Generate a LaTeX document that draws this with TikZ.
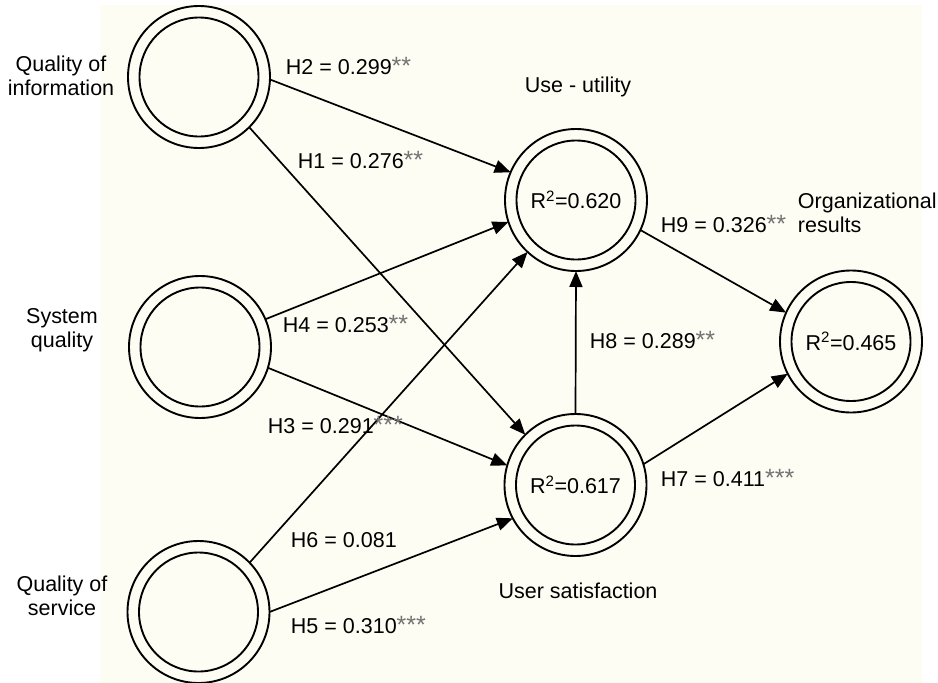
\documentclass[tikz,border=0pt]{standalone}
\usepackage{fontspec}
\setmainfont{Liberation Sans}
\usetikzlibrary{arrows.meta}
\definecolor{cream}{HTML}{FEFDF3}
\newcommand{\sig}[1]{\raisebox{0pt}{\fontsize{25}{26}\selectfont\textcolor{black!55}{#1}}}
\begin{document}
\begin{tikzpicture}[x=1pt,y=-1pt,line width=1.9pt,
  outercirc/.style={circle,draw,minimum size=142pt,inner sep=0pt,outer sep=0pt},
  innercirc/.style={circle,draw,minimum size=119pt,inner sep=0pt,outer sep=0pt,font=\fontsize{21.5}{24}\selectfont},
  conn/.style={-{Triangle[length=16pt,width=13pt]},line width=1.7pt},
  lab/.style={anchor=base west,inner sep=0pt,font=\fontsize{21.5}{24}\selectfont},
  cname/.style={align=center,inner sep=0pt,font=\fontsize{21.5}{24}\selectfont}]
\useasboundingbox (0,0) rectangle (938,683);
\fill[white] (0,0) rectangle (938,683);
\fill[cream] (100,5) rectangle (922,683);

% constructs
\node[outercirc] (QI) at (199,77) {};
\node[innercirc] (QIi) at (199,77) {};
\node[outercirc] (SQ) at (200,347) {};
\node[innercirc] (SQi) at (200,347) {};
\node[outercirc] (QS) at (198.5,612) {};
\node[innercirc] (QSi) at (198.5,612) {};
\node[outercirc] (UU) at (576,200) {};
\node[innercirc] (UUi) at (576,200) {R\textsuperscript{2}=0.620};
\node[outercirc] (US) at (575.5,485) {};
\node[innercirc] (USi) at (575.5,485) {R\textsuperscript{2}=0.617};
\node[outercirc] (OR) at (851,341.5) {};
\node[innercirc] (ORi) at (851,341.5) {R\textsuperscript{2}=0.465};

% construct names
\node[cname,anchor=north] (tQI) at (61,54.5) {Quality of\\information};
\node[cname,anchor=north] (tSQ) at (62,307.5) {System\\quality};
\node[cname,anchor=north] (tQS) at (62,574.5) {Quality of\\service};
\node[cname,anchor=base] (tUU) at (578,92) {Use - utility};
\node[cname,anchor=base] (tUS) at (578,598) {User satisfaction};
\node[cname,align=left,anchor=north west] (tOR) at (797,191.5) {Organizational\\results};

% paths
\draw[conn] (QI.-2) -- (UU.157);
\draw[conn] (QI.-45) -- (US.135);
\draw[conn] (SQ.23) -- (UU.198);
\draw[conn] (SQ.-17) -- (US.164);
\draw[conn] (QS.44) -- (UU.227);
\draw[conn] (QS.0) -- (US.208);
\draw[conn] (US.90) -- (UU.270);
\draw[conn] (UU.-25) -- (OR.156);
\draw[conn] (US.17) -- (OR.207);

% coefficients
\node[lab] (h2) at (285,74) {H2 = 0.299\sig{**}};
\node[lab] (h1) at (297,168) {H1 = 0.276\sig{**}};
\node[lab] (h4) at (282,332) {H4 = 0.253\sig{**}};
\node[lab] (h3) at (267,433) {H3 = 0.291\sig{***}};
\node[lab] (h8) at (589,348) {H8 = 0.289\sig{**}};
\node[lab] (h7) at (660,486) {H7 = 0.411\sig{***}};
\node[lab] (h6) at (290,547) {H6 = 0.081};
\node[lab] (h5) at (290,633) {H5 = 0.310\sig{***}};
\node[lab] (h9) at (660,232) {H9 = 0.326\sig{**}};
\end{tikzpicture}
\end{document}
